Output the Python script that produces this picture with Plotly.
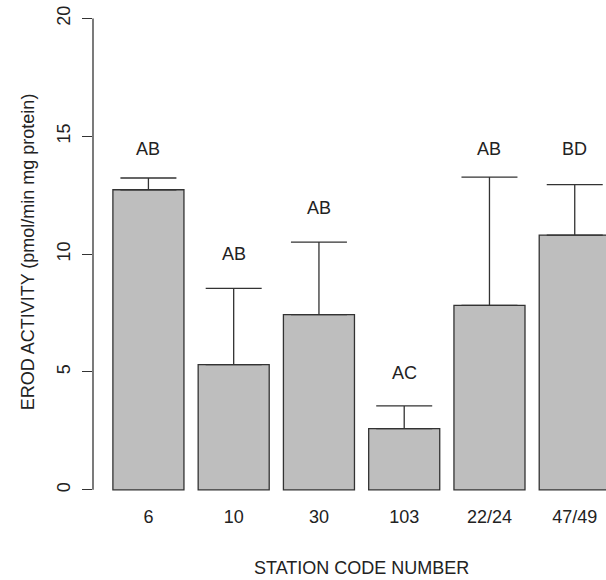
import plotly.graph_objects as go

# EROD activity by sampling station: mean with upper standard error
stations = ["6", "10", "30", "103", "22/24", "47/49"]
mean_activity = [12.73, 5.31, 7.43, 2.60, 7.83, 10.81]
upper_error = [0.50, 3.24, 3.08, 0.96, 5.44, 2.14]
group_letters = ["AB", "AB", "AB", "AC", "AB", "BD"]
letter_y = [14.45, 10.0, 11.95, 4.95, 14.45, 14.45]

# bar geometry in the style of a base-R barplot (width 1, gap 0.2)
bar_width = 1.0
bar_gap = 0.2
x_pos = [bar_gap + bar_width / 2 + i * (bar_width + bar_gap) for i in range(len(stations))]
x_full = [-0.08, 7.48]

FONT = "Liberation Sans, Arial, sans-serif"
INK = "#222222"

fig = go.Figure()
fig.add_trace(go.Bar(
    x=x_pos,
    y=mean_activity,
    width=bar_width,
    marker=dict(color="#BEBEBE", line=dict(color="#333333", width=1.3)),
    error_y=dict(type="data", symmetric=False, array=upper_error,
                 arrayminus=[0] * len(upper_error),
                 color="#333333", thickness=1.3, width=28),
    hoverinfo="skip",
))

for x, y, t in zip(x_pos, letter_y, group_letters):
    fig.add_annotation(x=x, y=y, text=t, showarrow=False,
                       font=dict(family=FONT, size=18, color=INK),
                       xanchor="center", yanchor="middle")

# x-axis title centred on the full plotting window
fig.add_annotation(x=sum(x_full) / 2, y=0, xref="x", yref="paper",
                   text="STATION CODE NUMBER", showarrow=False,
                   yshift=-64, yanchor="middle",
                   font=dict(family=FONT, size=18, color=INK))

# y axis line drawn only over the labelled span 0-20
fig.add_shape(type="line", xref="paper", yref="y", x0=0, x1=0, y0=0, y1=20,
              line=dict(color="#333333", width=1.3))

fig.update_layout(
    width=606, height=580,
    margin=dict(l=93, r=0, t=0, b=76),
    paper_bgcolor="white", plot_bgcolor="white",
    showlegend=False,
    font=dict(family=FONT, size=18, color=INK),
    xaxis=dict(range=[x_full[0], 7.14], tickmode="array", tickvals=x_pos,
               ticktext=stations, showline=False, showgrid=False,
               zeroline=False, ticks="", tickfont=dict(size=18, color=INK)),
    yaxis=dict(range=[-0.6, 20.78], tickmode="array", tickvals=[0, 5, 10, 15, 20],
               showline=False, showgrid=False, zeroline=False,
               ticks="outside", ticklen=10, tickwidth=1.3, tickcolor="#333333",
               tickangle=-90, ticklabelstandoff=5,
               tickfont=dict(size=18, color=INK),
               title=dict(text="EROD ACTIVITY (pmol/min mg protein)",
                          font=dict(size=18, color=INK), standoff=14)),
)

fig.write_html("out.html")
